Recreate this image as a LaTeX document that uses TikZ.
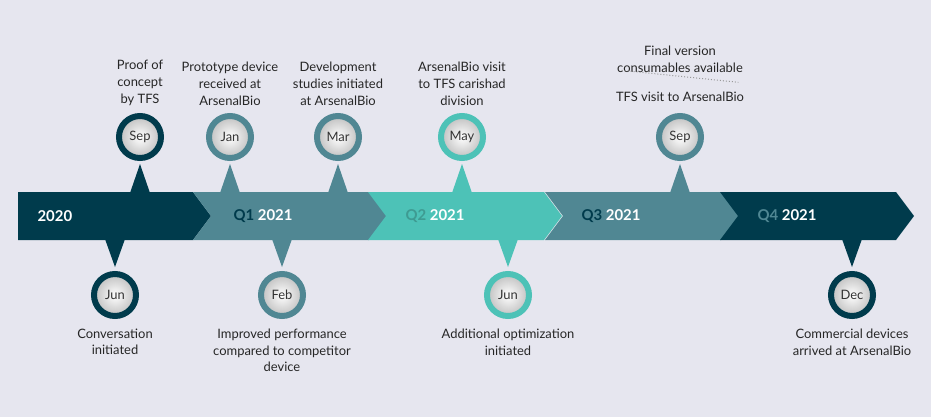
\documentclass[tikz,border=0pt]{standalone}
\usepackage{fontspec}
\setmainfont{Lato}
\usetikzlibrary{positioning}
\definecolor{dark}{HTML}{003B4C}
\definecolor{mid}{HTML}{508793}
\definecolor{teal}{HTML}{4DC2B7}
\definecolor{bg}{HTML}{E6E6EF}
\tikzset{
  month/.style={circle, minimum size=42bp, inner sep=0pt, line width=6bp,
    inner color=white, outer color=black!25, text=black!80, font=\fontsize{13}{13}\selectfont},
  note/.style={align=center, text=black!85, font=\fontsize{13}{17}\selectfont},
  year/.style={text=white, font=\bfseries\fontsize{15}{15}\selectfont, anchor=west}
}
\begin{document}
\begin{tikzpicture}[x=1bp, y=-1bp]
    \fill[bg] (0,0) rectangle (931,417);
    \useasboundingbox (0,0) rectangle (931,417);

    % arrow band
    \fill[dark] (18,192) -- (193,192) -- (211,216) -- (193,240) -- (18,240) -- cycle;
    \foreach \l/\c in {193/mid, 368/teal, 545/mid, 720/dark}
        \fill[\c] (\l,192) -- (\l+176,192) -- (\l+194,216) -- (\l+176,240) -- (\l,240) -- (\l+18,216) -- cycle;

    \node (Y0) [year] at (34,216) {2020};
    \node (Y1) [year] at (230,216) {\textcolor{dark}{Q1} 2021};
    \node (Y2) [year] at (402,216) {\textcolor{teal!80!black}{Q2} 2021};
    \node (Y3) [year] at (578,216) {\textcolor{dark}{Q3} 2021};
    \node (Y4) [year] at (754,216) {\textcolor{mid}{Q4} 2021};

    % pointers above and below
    \foreach \x/\c in {140/dark, 230/mid, 338/mid, 462/teal, 680/mid}
        \fill[\c] (\x-10,193) -- (\x,164) -- (\x+10,193) -- cycle;
    \foreach \x/\c in {115/dark, 282/mid, 508/teal, 852/dark}
        \fill[\c] (\x-10,239) -- (\x,267) -- (\x+10,239) -- cycle;

    % month circles
    \node (sep) [month, draw=dark] at (140,137) {Sep};
    \node (jan) [month, draw=mid] at (230,137) {Jan};
    \node (mar) [month, draw=mid] at (338,137) {Mar};
    \node (may) [month, draw=teal] at (462,137) {May};
    \node (sepb) [month, draw=mid] at (680,137) {Sep};
    \node (jun) [month, draw=dark] at (115,295) {Jun};
    \node (feb) [month, draw=mid] at (282,295) {Feb};
    \node (junb) [month, draw=teal] at (508,295) {Jun};
    \node (dec) [month, draw=dark] at (852,295) {Dec};

    % notes
    \node (nsep) [note, above=4bp of sep] {Proof of\\concept\\by TFS};
    \node (njan) [note, above=4bp of jan] {Prototype device\\received at\\ArsenalBio};
    \node (nmar) [note, above=4bp of mar] {Development\\studies initiated\\at ArsenalBio};
    \node (nmay) [note, above=4bp of may] {ArsenalBio visit\\to TFS carishad\\division};
    \node (nsepb) [note, above=8bp of sepb] {TFS visit to ArsenalBio};
    \node (nfin) [note, above=12bp of nsepb] {Final version\\consumables available};
    \draw[black!40, dotted, line width=1bp] (nfin.south west) ++(8,-6) -- ([xshift=-8,yshift=-6]nfin.south east);
    \node (njun) [note, below=6bp of jun] {Conversation\\initiated};
    \node (nfeb) [note, below=6bp of feb] {Improved performance\\compared to competitor\\device};
    \node (njunb) [note, below=6bp of junb] {Additional optimization\\initiated};
    \node (ndec) [note, below=6bp of dec] {Commercial devices\\arrived at ArsenalBio};
\end{tikzpicture}
\end{document}
